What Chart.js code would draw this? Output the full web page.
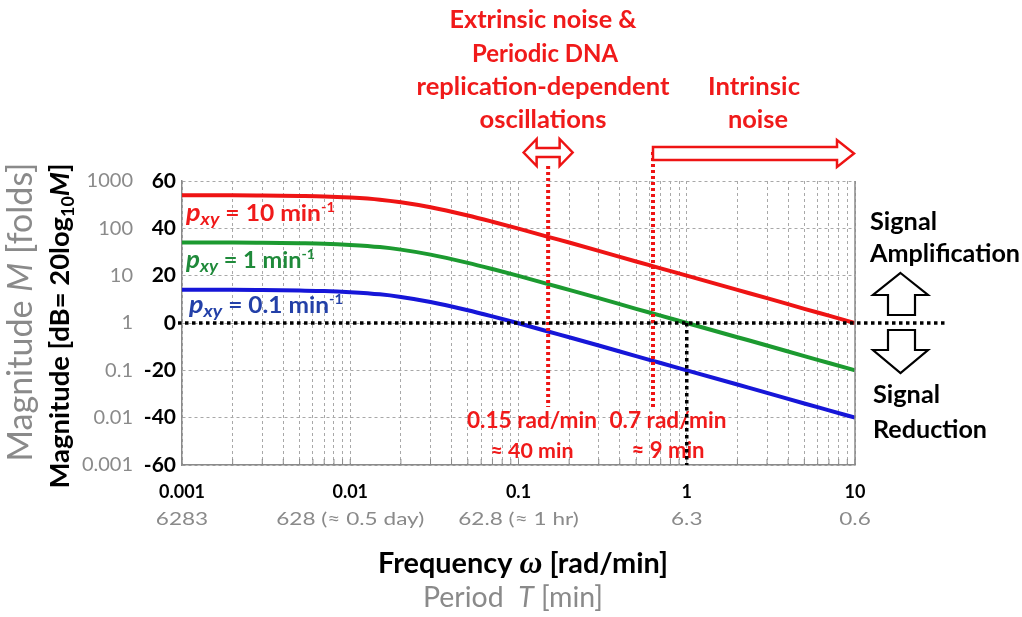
<!DOCTYPE html>
<html><head><meta charset="utf-8">
<script src="https://cdn.jsdelivr.net/npm/chart.js@4.4.1/dist/chart.umd.min.js"></script>
<style>html,body{margin:0;padding:0;background:#fff}#wrap{width:1022px;height:617px}</style>
</head><body><div id="wrap"><canvas id="c" width="1022" height="617"></canvas></div>
<script>
// ---- data ----
const freq      = [0.001,0.002,0.003,0.005,0.007,0.01,0.015,0.02,0.03,0.05,0.07,0.1,0.15,0.2,0.3,0.5,0.7,1,2,3,5,7,10];
const dbRed     = [54.0,54.0,53.9,53.7,53.5,53.0,52.1,51.0,48.9,45.4,42.8,39.9,36.4,34.0,30.5,26.0,23.1,20.0,14.0,10.5,6.0,3.1,0.0];
const dbGreen   = [34.0,34.0,33.9,33.7,33.5,33.0,32.1,31.0,28.9,25.4,22.8,19.9,16.4,14.0,10.5,6.0,3.1,0.0,-6.0,-9.5,-14.0,-16.9,-20.0];
const dbBlue    = [14.0,14.0,13.9,13.7,13.5,13.0,12.1,11.0,8.9,5.4,2.8,-0.1,-3.6,-6.0,-9.5,-14.0,-16.9,-20.0,-26.0,-29.5,-34.0,-36.9,-40.0];
const seriesNames = ['10','1','0.1'];
const xTickValues = [0.001,0.01,0.1,1,10];
const xTickLabels = ['0.001','0.01','0.1','1','10'];
const periodLabels = ['6283','628 (\u2248 0.5 day)','62.8 (\u2248 1 hr)','6.3','0.6'];
const dbTicks = [60,40,20,0,-20,-40,-60];
const foldLabels = ['1000','100','10','1','0.1','0.01','0.001'];
const markerFreqs = [0.15, 0.63];
const markerLabels = [['0.15 rad/min','\u2248 40 min'],['0.7 rad/min','\u2248 9 min']];
const crossFreq = 1;

const FAM = 'Lato, "Open Sans", sans-serif';
const RED = '#ee1414', GREEN = '#1c9a30', BLUE = '#1616d8';
const REDT = '#f01a1a', GREENT = '#1f8a3a', BLUET = '#2340a8', GRAY = '#8a8a8a';

function segFont(s, size, weight) {
  const sz = size * (s.r || 1);
  return (s.i ? 'italic ' : '') + (s.w || weight) + ' ' + sz + 'px ' + (s.f || FAM);
}
function measureRich(ctx, segs, size, weight) {
  let w = 0;
  for (const s of segs) { ctx.font = segFont(s, size, weight); w += ctx.measureText(s.t).width; }
  return w;
}
// width only: font size fitted to width; size + width: horizontal scaling to width
function drawRich(ctx, segs, o) {
  let size = o.size;
  if (!size) size = 100 * o.width / measureRich(ctx, segs, 100, o.weight);
  const total = measureRich(ctx, segs, size, o.weight);
  const sx = o.width ? o.width / total : 1;
  ctx.save();
  ctx.translate(o.x, o.y);
  if (o.rotate) ctx.rotate(-Math.PI / 2);
  ctx.scale(sx, 1);
  let x = o.align === 'center' ? -total / 2 : (o.align === 'right' ? -total : 0);
  ctx.textBaseline = 'alphabetic'; ctx.textAlign = 'left';
  for (const s of segs) {
    ctx.font = segFont(s, size, o.weight);
    ctx.fillStyle = s.color || o.color;
    ctx.fillText(s.t, x, (s.dy || 0) * size);
    x += ctx.measureText(s.t).width;
  }
  ctx.restore();
}
function txt(ctx, t, o) { drawRich(ctx, [{t}], o); }
function poly(ctx, pts, stroke, lw) {
  ctx.save();
  ctx.beginPath();
  pts.forEach((p, i) => i ? ctx.lineTo(p[0], p[1]) : ctx.moveTo(p[0], p[1]));
  ctx.closePath();
  ctx.fillStyle = '#fff'; ctx.fill();
  ctx.lineWidth = lw; ctx.strokeStyle = stroke; ctx.lineJoin = 'miter'; ctx.stroke();
  ctx.restore();
}
function dline(ctx, x1, y1, x2, y2, color, lw, dash) {
  ctx.save(); ctx.beginPath(); ctx.setLineDash(dash); ctx.lineWidth = lw; ctx.strokeStyle = color;
  ctx.moveTo(x1, y1); ctx.lineTo(x2, y2); ctx.stroke(); ctx.restore();
}

const annot = {
  id: 'annot',
  afterDraw(chart) {
    const ctx = chart.ctx, xs = chart.scales.x, ys = chart.scales.y, ca = chart.chartArea;
    // right frame line
    dline(ctx, ca.right, ca.top, ca.right, ca.bottom, '#8a8a8a', 1.5, []);
    // inner tick marks on bottom axis
    for (const t of xs.ticks) {
      const px = xs.getPixelForValue(t.value);
      dline(ctx, px, ca.bottom, px, ca.bottom - 6, '#8a8a8a', 1, []);
    }
    // gray fold labels
    ctx.save();
    ctx.font = '400 20px ' + FAM; ctx.fillStyle = GRAY; ctx.textAlign = 'right'; ctx.textBaseline = 'middle';
    dbTicks.forEach((v, i) => ctx.fillText(foldLabels[i], 133, ys.getPixelForValue(v)));
    ctx.restore();
    // period labels
    ctx.save();
    ctx.font = '400 18px ' + FAM;
    const psx = 148 / ctx.measureText(periodLabels[1]).width;
    ctx.fillStyle = GRAY; ctx.textAlign = 'center'; ctx.textBaseline = 'alphabetic';
    xTickValues.forEach((v, i) => {
      ctx.save(); ctx.translate(xs.getPixelForValue(v), 525); ctx.scale(psx, 1);
      ctx.fillText(periodLabels[i], 0, 0); ctx.restore();
    });
    ctx.restore();
    // axis titles
    drawRich(ctx, [{t:'Magnitude '},{t:'M',i:true},{t:' [folds]'}], {x:32, y:312, width:299, weight:'400', color:GRAY, align:'center', rotate:true});
    drawRich(ctx, [{t:'Magnitude [dB= 20log'},{t:'10',r:0.65,dy:0.2},{t:'M',i:true},{t:']'}], {x:69, y:326, width:325, weight:'700', color:'#000', align:'center', rotate:true});
    drawRich(ctx, [{t:'Frequency '},{t:'\u03c9',i:true,f:'"Liberation Serif", serif',r:1.1},{t:' [rad/min]'}], {x:523, y:573, width:290, weight:'700', color:'#000', align:'center'});
    drawRich(ctx, [{t:'Period  '},{t:'T',i:true},{t:' [min]'}], {x:513, y:607, width:180, weight:'400', color:GRAY, align:'center'});
    // series labels
    const lab = (val) => [{t:'p',i:true,r:1.1},{t:'xy',i:true,r:0.78,dy:0.2},{t:' = ' + val + ' min'},{t:'-1',r:0.6,dy:-0.42}];
    drawRich(ctx, lab(seriesNames[0]), {x:186, y:221, size:22, width:149, weight:'700', color:REDT});
    drawRich(ctx, lab(seriesNames[1]), {x:186, y:268, size:22, width:129, weight:'700', color:GREENT});
    drawRich(ctx, lab(seriesNames[2]), {x:189, y:313, size:22, width:154, weight:'700', color:BLUET});
    // red marker lines
    const m0 = xs.getPixelForValue(markerFreqs[0]), m1 = xs.getPixelForValue(markerFreqs[1]);
    dline(ctx, m0, 166, m0, 407, RED, 4, [3, 3]);
    dline(ctx, m1, 152, m1, 407, RED, 4, [3, 3]);
    // arrows
    const tip = xs.getPixelForValue(10) - 1;
    poly(ctx, [[m1,147],[tip-17,147],[tip-17,140],[tip,153.5],[tip-17,167],[tip-17,160],[m1,160]], RED, 2.5);
    const c = m0;
    poly(ctx, [[c-24.5,152.5],[c-11.5,139],[c-11.5,148],[c+11.5,148],[c+11.5,139],[c+24.5,152.5],[c+11.5,166],[c+11.5,157],[c-11.5,157],[c-11.5,166]], RED, 2.5);
    poly(ctx, [[900.5,273],[928,295],[915,295],[915,315],[888,315],[888,295],[873,295]], '#000', 2.2);
    poly(ctx, [[888,330],[915,330],[915,350],[928,350],[900.5,373],[873,350],[888,350]], '#000', 2.2);
    // top red texts
    txt(ctx, 'Extrinsic noise &', {x:543, y:28, width:187, weight:'700', color:REDT, align:'center'});
    txt(ctx, 'Periodic DNA', {x:545, y:62, width:146, weight:'700', color:REDT, align:'center'});
    txt(ctx, 'replication-dependent', {x:543, y:95, width:253, weight:'700', color:REDT, align:'center'});
    txt(ctx, 'oscillations', {x:543, y:128, width:127, weight:'700', color:REDT, align:'center'});
    txt(ctx, 'Intrinsic', {x:754, y:95, width:92, weight:'700', color:REDT, align:'center'});
    txt(ctx, 'noise', {x:758, y:128, width:60, weight:'700', color:REDT, align:'center'});
    // right black texts
    txt(ctx, 'Signal', {x:870, y:230, width:67, weight:'700', color:'#000'});
    txt(ctx, 'Amplification', {x:870, y:262, width:150, weight:'700', color:'#000'});
    txt(ctx, 'Signal', {x:873, y:403, width:67, weight:'700', color:'#000'});
    txt(ctx, 'Reduction', {x:873, y:438, width:114, weight:'700', color:'#000'});
    // marker value texts
    txt(ctx, markerLabels[0][0], {x:532, y:428, width:130, weight:'700', color:REDT, align:'center'});
    txt(ctx, markerLabels[0][1], {x:532, y:458, width:83, weight:'700', color:REDT, align:'center'});
    txt(ctx, markerLabels[1][0], {x:668, y:428, width:117, weight:'700', color:REDT, align:'center'});
    txt(ctx, markerLabels[1][1], {x:668, y:458, width:73, weight:'700', color:REDT, align:'center'});
    // black dotted lines
    const y0 = ys.getPixelForValue(0), xc = xs.getPixelForValue(crossFreq);
    dline(ctx, ca.left - 4, y0, 947, y0, '#000', 3.5, [3.5, 3.5]);
    dline(ctx, xc, y0, xc, ca.bottom, '#000', 3.5, [3.5, 3.5]);
  }
};

const mk = (arr) => freq.map((f, i) => ({x: f, y: arr[i]}));
Chart.defaults.font.family = FAM;
new Chart(document.getElementById('c'), {
  type: 'line',
  data: {
    datasets: [
      {data: mk(dbRed), borderColor: RED, borderWidth: 4, pointRadius: 0, cubicInterpolationMode: 'monotone', fill: false},
      {data: mk(dbGreen), borderColor: GREEN, borderWidth: 4, pointRadius: 0, cubicInterpolationMode: 'monotone', fill: false},
      {data: mk(dbBlue), borderColor: BLUE, borderWidth: 4, pointRadius: 0, cubicInterpolationMode: 'monotone', fill: false}
    ]
  },
  options: {
    responsive: false, animation: false, events: [],
    layout: {padding: {left: 0, right: 167, top: 181, bottom: 0}},
    plugins: {legend: {display: false}, tooltip: {enabled: false}},
    scales: {
      x: {
        type: 'logarithmic', min: 0.001, max: 10, position: 'bottom',
        afterBuildTicks: (s) => {
          const t = [];
          for (let e = -3; e < 1; e++) for (let m = 1; m < 10; m++) t.push({value: +(m * Math.pow(10, e)).toPrecision(3)});
          t.push({value: 10});
          s.ticks = t;
        },
        afterFit: (s) => { s.height = 152; },
        ticks: {
          autoSkip: false, maxRotation: 0, minRotation: 0, color: '#000', padding: 16,
          font: {size: 18, weight: 'bold'},
          callback: (v) => { const i = xTickValues.findIndex(t => Math.abs(t - v) / t < 1e-6); return i >= 0 ? xTickLabels[i] : ''; }
        },
        grid: {color: '#a8a8a8', lineWidth: 1, drawTicks: false},
        border: {display: true, color: '#8a8a8a', width: 1.5, dash: [3, 3]}
      },
      y: {
        type: 'linear', min: -60, max: 60,
        afterBuildTicks: (s) => { s.ticks = dbTicks.map(v => ({value: v})); },
        afterFit: (s) => { s.width = 182; },
        ticks: {color: '#000', padding: 6, font: {size: 21, weight: 'bold'}, callback: (v) => String(v)},
        grid: {color: '#a8a8a8', lineWidth: 1, drawTicks: false},
        border: {display: true, color: '#8a8a8a', width: 1.5, dash: [3, 3]}
      }
    }
  },
  plugins: [annot]
});
</script></body></html>
